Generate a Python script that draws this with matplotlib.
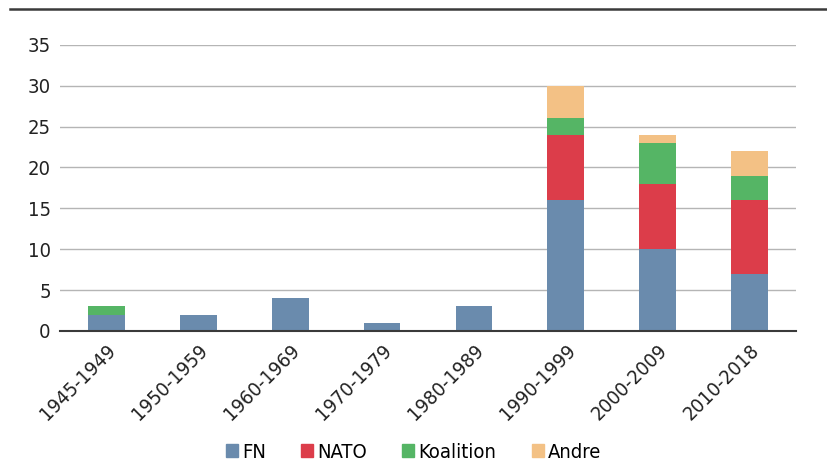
import matplotlib
matplotlib.use("Agg")
import matplotlib.pyplot as plt
from matplotlib.patches import Patch

categories = ["1945-1949", "1950-1959", "1960-1969", "1970-1979", "1980-1989", "1990-1999", "2000-2009", "2010-2018"]
fn = [2, 2, 4, 1, 3, 16, 10, 7]
nato = [0, 0, 0, 0, 0, 8, 8, 9]
koalition = [1, 0, 0, 0, 0, 2, 5, 3]
andre = [0, 0, 0, 0, 0, 4, 1, 3]
series_names = ["FN", "NATO", "Koalition", "Andre"]
colors = ["#6a8bad", "#dc3d4a", "#55b565", "#f3c185"]
yticks = [0, 5, 10, 15, 20, 25, 30, 35]

plt.rcParams["font.family"] = "DejaVu Sans"
plt.rcParams["font.stretch"] = "condensed"

fig = plt.figure(figsize=(8.27, 4.72), dpi=100)
ax = fig.add_axes([0.073, 0.299, 0.889, 0.606])

x = range(len(categories))
bottom = [0] * len(categories)
for vals, c in zip([fn, nato, koalition, andre], colors):
    ax.bar(x, vals, width=0.4, bottom=bottom, color=c, zorder=3)
    bottom = [b + v for b, v in zip(bottom, vals)]

ax.set_ylim(0, 35)
ax.set_xlim(-0.5, len(categories) - 0.5)
ax.set_yticks(yticks)
ax.yaxis.grid(True, color="#b5b5b5", linewidth=1.0, zorder=0)
ax.set_axisbelow(True)
for s in ["top", "right", "left"]:
    ax.spines[s].set_visible(False)
ax.spines["bottom"].set_color("#3a3a3a")
ax.spines["bottom"].set_linewidth(1.5)
ax.spines["bottom"].set_zorder(4)
ax.tick_params(axis="both", length=0, labelsize=14.5, colors="#222222", pad=7)
ax.set_xticks(list(x))
ax.set_xticklabels(categories, rotation=45, ha="right", rotation_mode="anchor")
ax.tick_params(axis="x", pad=7)

handles = [Patch(color=c, label=n) for n, c in zip(series_names, colors)]
fig.legend(handles=handles, loc="center", bbox_to_anchor=(0.5, 0.042), ncol=4,
           frameon=False, fontsize=14.5, handlelength=0.6, handleheight=0.6,
           handletextpad=0.2, columnspacing=1.75)

fig.add_artist(plt.Line2D([0.012, 1.0], [0.981, 0.981], color="#3a3a3a", linewidth=1.8))

fig.savefig("out.png", dpi=100, facecolor="white")
